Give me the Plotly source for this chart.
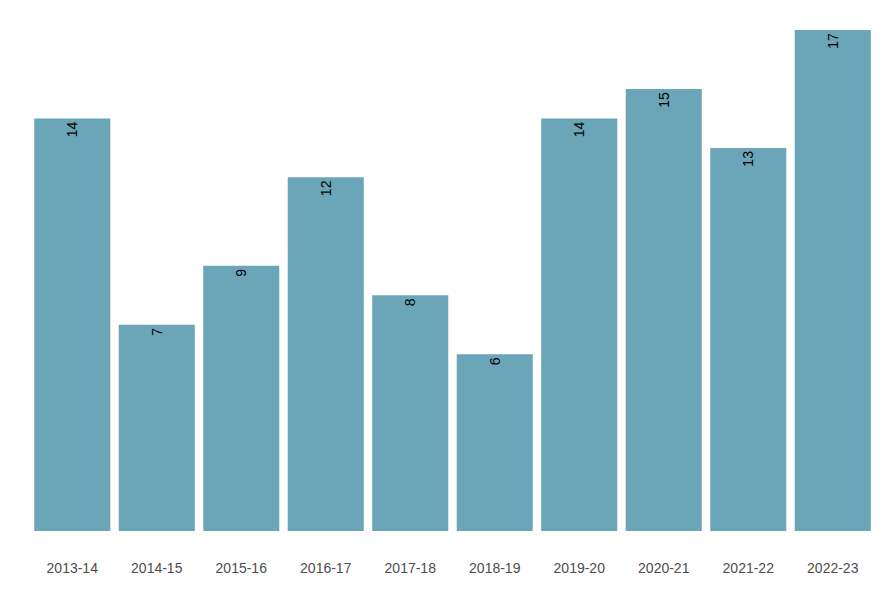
import plotly.graph_objects as go

categories = ["2013-14", "2014-15", "2015-16", "2016-17", "2017-18",
              "2018-19", "2019-20", "2020-21", "2021-22", "2022-23"]
values = [14, 7, 9, 12, 8, 6, 14, 15, 13, 17]

fig = go.Figure(go.Bar(
    x=categories, y=values,
    marker=dict(color="#6BA5B8", line=dict(width=0)),
    text=[str(v) for v in values],
    textposition="inside",
    insidetextanchor="end",
    textangle=-90,
    textfont=dict(family="Liberation Sans, Arial, sans-serif", size=14, color="black"),
    constraintext="none",
    hoverinfo="skip",
))

fig.update_layout(
    width=890, height=600,
    margin=dict(l=30, r=15, t=30, b=69),
    paper_bgcolor="white", plot_bgcolor="white",
    bargap=0.1,
    showlegend=False,
    font=dict(family="Liberation Sans, Arial, sans-serif"),
    xaxis=dict(showgrid=False, zeroline=False, showline=False,
               ticks="outside", ticklen=24, tickcolor="rgba(0,0,0,0)",
               tickfont=dict(size=14, color="#4D4D4D")),
    yaxis=dict(range=[0, 17], showgrid=False, zeroline=False, showline=False,
               showticklabels=False, ticks=""),
)

fig.write_html("out.html")
